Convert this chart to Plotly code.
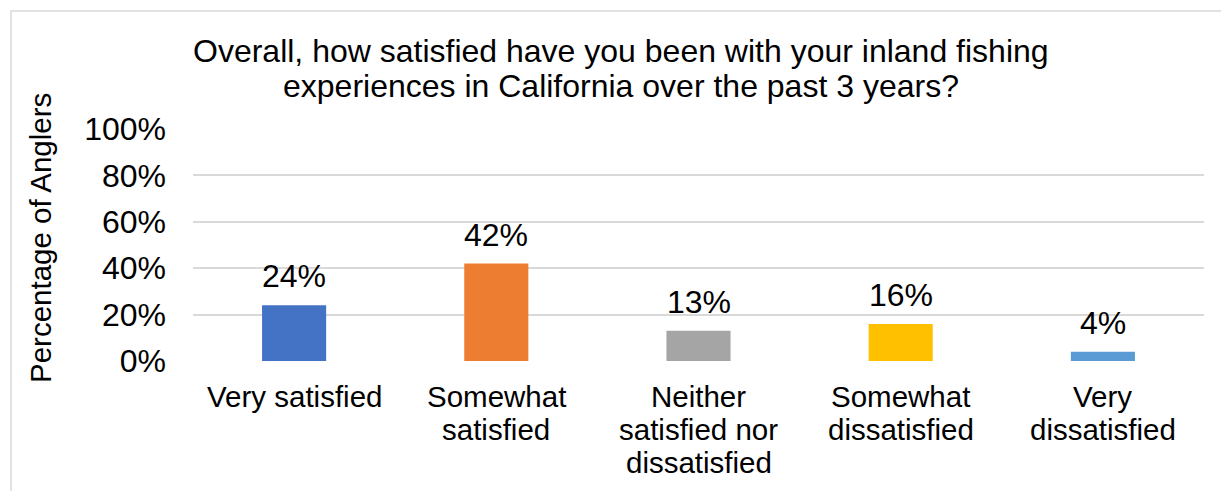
import plotly.graph_objects as go

# Survey responses (percentage of anglers)
categories = ["Very satisfied", "Somewhat satisfied", "Neither satisfied nor dissatisfied",
              "Somewhat dissatisfied", "Very dissatisfied"]
category_lines = [["Very satisfied"], ["Somewhat", "satisfied"],
                  ["Neither", "satisfied nor", "dissatisfied"],
                  ["Somewhat", "dissatisfied"], ["Very", "dissatisfied"]]
values = [24, 42, 13, 16, 4]
colors = ["#4472C4", "#ED7D31", "#A5A5A5", "#FFC000", "#5B9BD5"]
y_ticks = [0, 20, 40, 60, 80, 100]
y_tick_labels = ["0%", "20%", "40%", "60%", "80%", "100%"]
title_lines = ["Overall, how satisfied have you been with your inland fishing",
               "experiences in California over the past 3 years?"]
y_title = "Percentage of Anglers"

W, H = 1221, 491
L, R, T, B = 193, 1204, 129, 361   # plot area in pixels
FONT = "Liberation Sans, Arial, sans-serif"
FS_BIG = 32     # title, value labels, tick labels
FS_SMALL = 29.5  # category labels, axis title
GRID = "#d9d9d9"


def px_x(px):
    return (px - L) / (R - L)


def px_y(py):
    return (B - py) / (B - T)


fig = go.Figure(go.Bar(
    x=categories, y=values, marker=dict(color=colors, line=dict(width=0)),
    width=0.317, hoverinfo="skip",
))

annotations = []
# value labels above bars
for c, v in zip(categories, values):
    annotations.append(dict(x=c, y=v, xref="x", yref="y", text=f"{v}%", showarrow=False,
                            yanchor="middle", yshift=29, font=dict(size=FS_BIG, color="#000000")))
# category labels, one line at a time
for c, lines in zip(categories, category_lines):
    for i, ln in enumerate(lines):
        annotations.append(dict(x=c, y=px_y(396 + 33 * i), xref="x", yref="paper", text=ln,
                                showarrow=False, yanchor="middle",
                                font=dict(size=FS_SMALL, color="#000000")))
# chart title
for i, ln in enumerate(title_lines):
    annotations.append(dict(x=px_x(621), y=px_y(51 + 35 * i), xref="paper", yref="paper",
                            text=ln, showarrow=False, xanchor="center", yanchor="middle",
                            font=dict(size=FS_BIG, color="#000000")))
# y-axis title
annotations.append(dict(x=px_x(40), y=px_y(238), xref="paper", yref="paper", text=y_title,
                        textangle=-90, showarrow=False, xanchor="center", yanchor="middle",
                        font=dict(size=FS_SMALL, color="#000000")))

fig.update_layout(
    width=W, height=H,
    margin=dict(l=L, r=W - R, t=T, b=H - B, pad=0),
    paper_bgcolor="white", plot_bgcolor="white",
    font=dict(family=FONT, size=FS_SMALL, color="#000000"),
    showlegend=False, bargap=0.683,
    annotations=annotations,
    shapes=[dict(type="rect", xref="paper", yref="paper",
                 x0=px_x(11), x1=px_x(1240), y0=px_y(11), y1=px_y(510),
                 line=dict(color=GRID, width=1.5), fillcolor="rgba(0,0,0,0)", layer="below")],
    xaxis=dict(showticklabels=False, showgrid=False, zeroline=False, showline=False,
               ticks="", fixedrange=True),
    yaxis=dict(range=[0, 100], tickmode="array", tickvals=y_ticks, ticktext=y_tick_labels,
               showgrid=True, gridcolor=GRID, gridwidth=1.5, zeroline=False, showline=False,
               ticks="", ticklabelstandoff=26, tickfont=dict(size=FS_BIG, color="#000000"),
               fixedrange=True),
)

fig.write_html("out.html")
